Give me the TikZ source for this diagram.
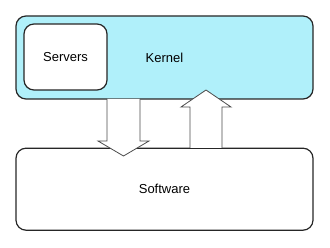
\documentclass[tikz,border=0pt]{standalone}
\usepackage{fontspec}
\setmainfont{Liberation Sans}
\definecolor{kernelblue}{RGB}{176,240,250}
\tikzset{box/.style={draw=black!85,line width=1.2pt,rounded corners=10pt,font=\fontsize{13}{15}\selectfont},
  blockarrow/.style={draw=black!70,fill=white,line width=0.8pt}}
\begin{document}
\begin{tikzpicture}[x=1pt,y=-1pt]
\useasboundingbox (0,0) rectangle (330,248);
\node[box,fill=kernelblue,minimum width=297pt,minimum height=83pt] (kernel) at (164.5,57.5) {Kernel};
\node[box,fill=white,minimum width=83pt,minimum height=66pt] (servers) at (65.5,57) {Servers};
\node[box,minimum width=297pt,minimum height=82pt] (software) at (164.5,189.2) {Software};
\draw[blockarrow] (107,99) -- (107,141) -- (98,141) -- (123.5,156) -- (149,141) -- (140,141) -- (140,99);
\draw[blockarrow] (190,148) -- (190,107) -- (181,107) -- (206,90) -- (231,107) -- (222,107) -- (222,148);
\end{tikzpicture}
\end{document}
